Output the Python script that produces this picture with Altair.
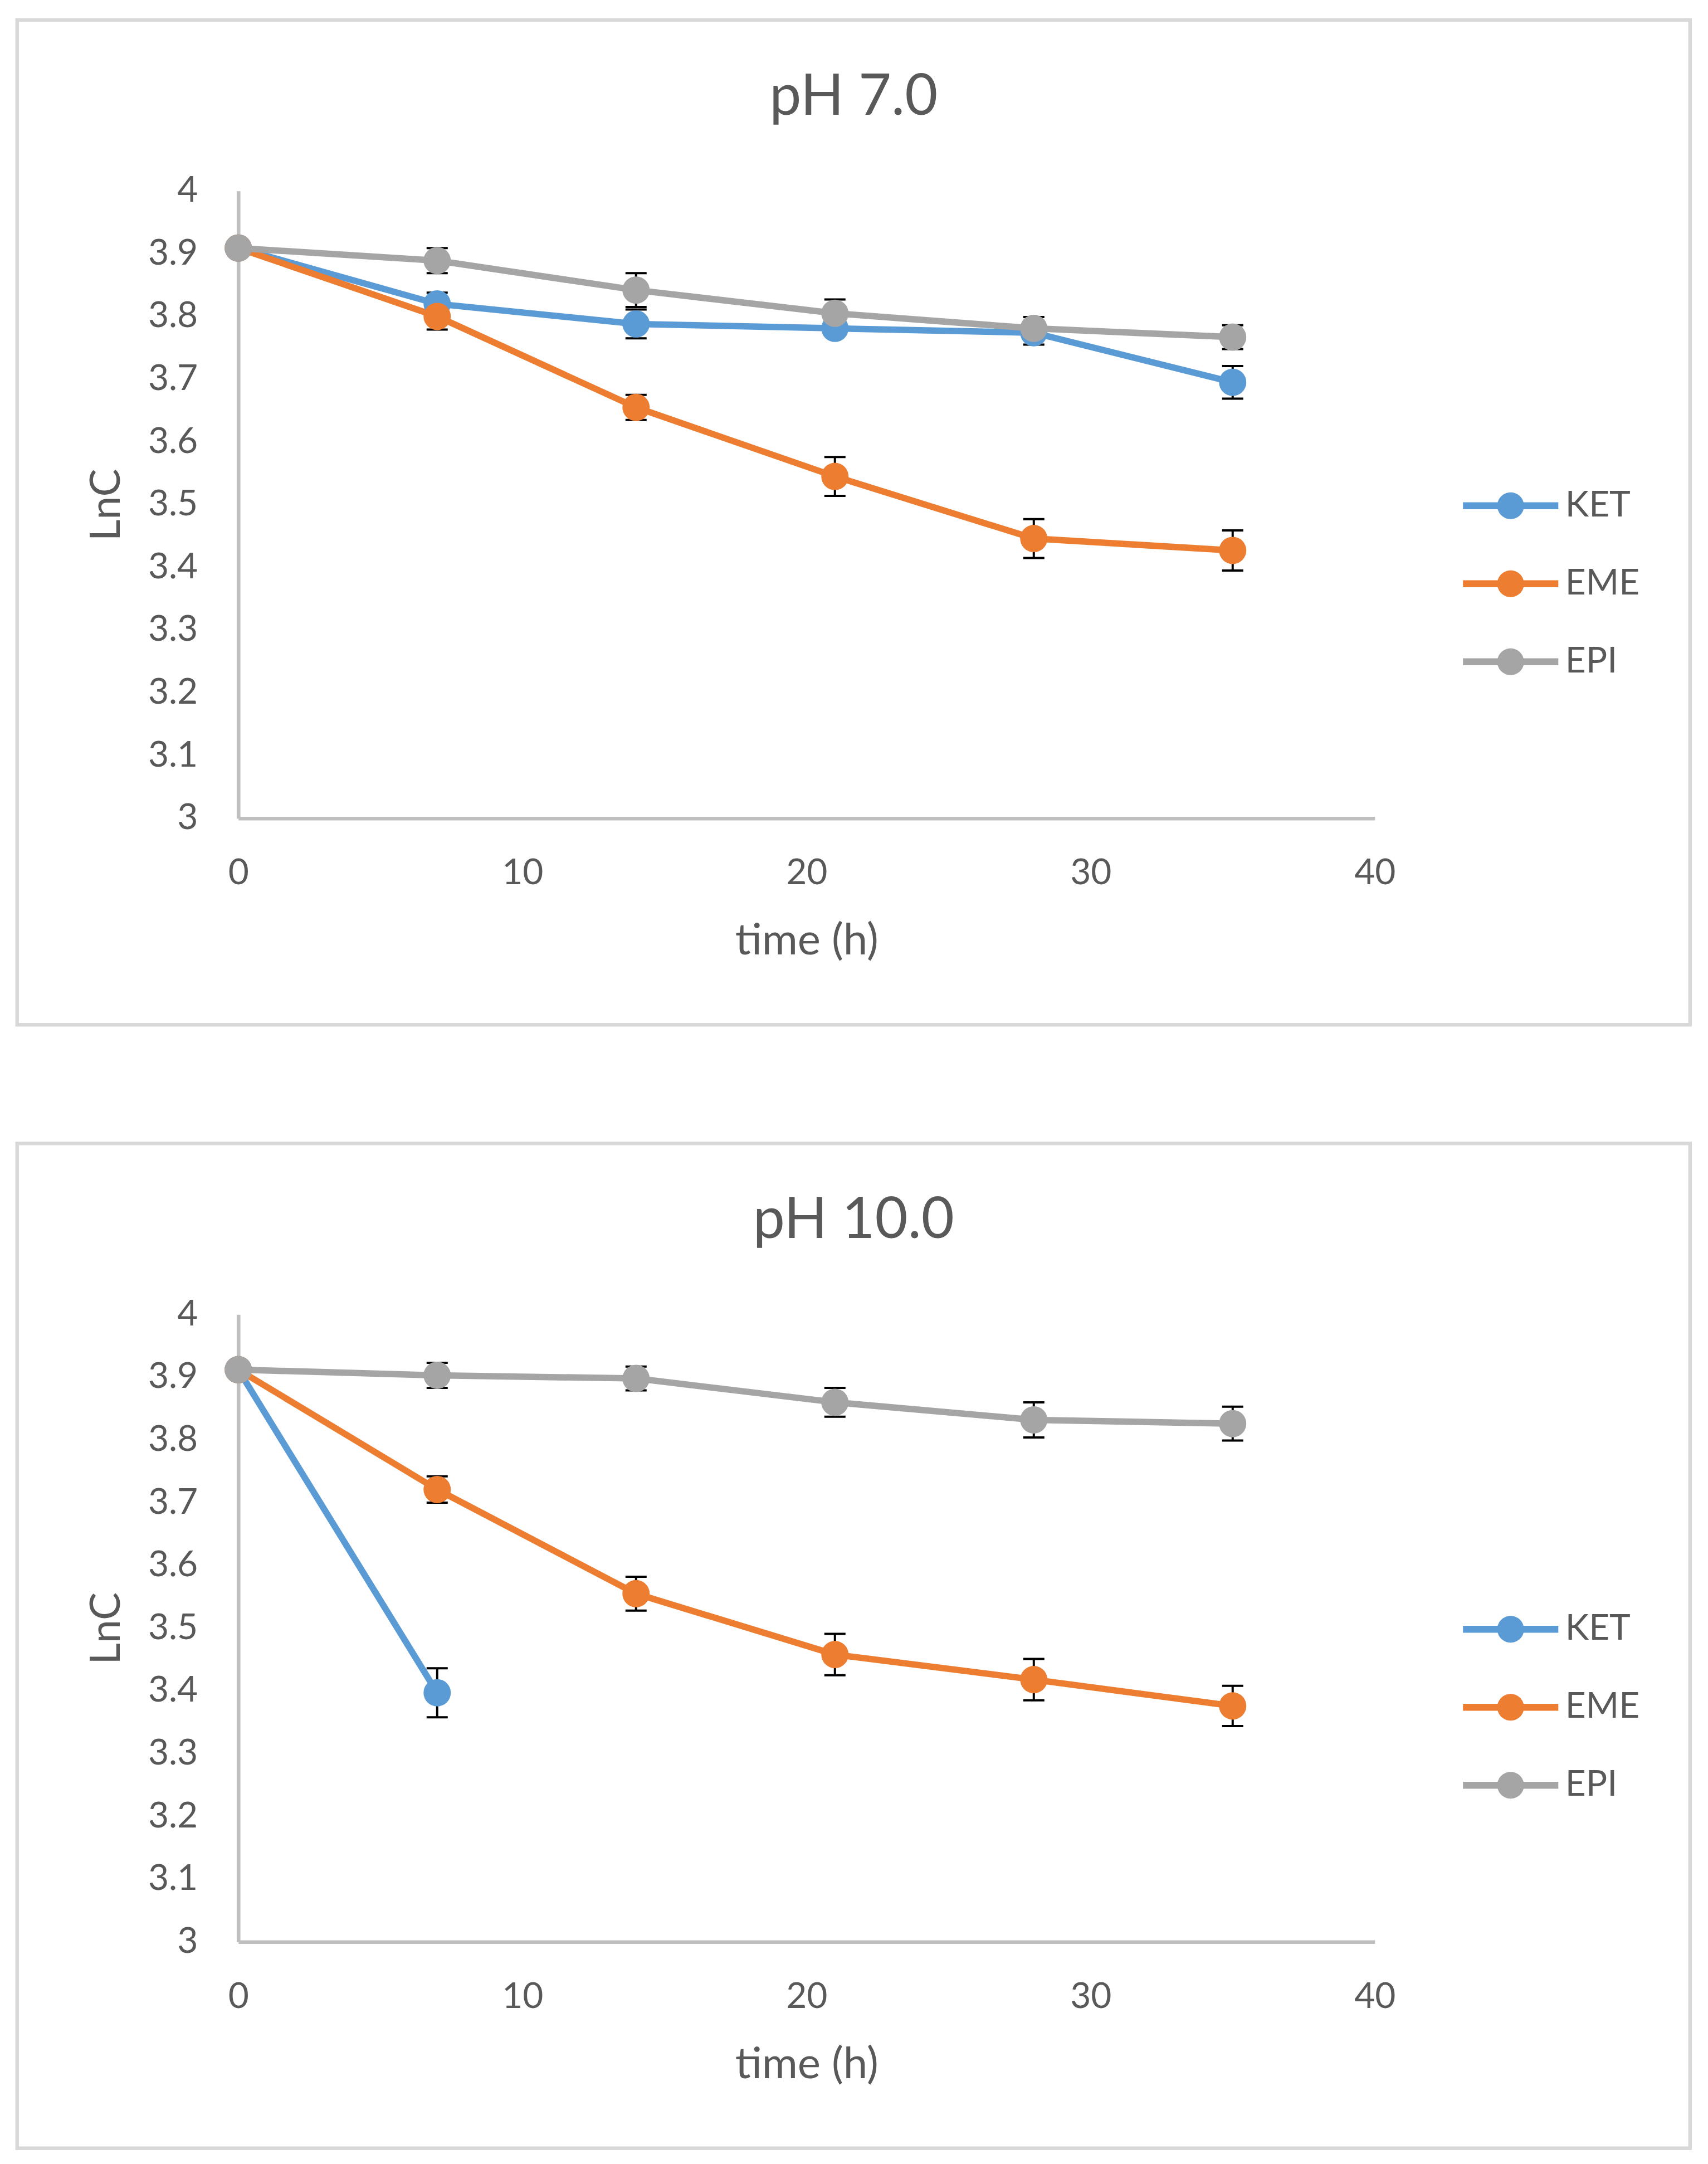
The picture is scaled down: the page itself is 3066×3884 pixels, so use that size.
import altair as alt
import pandas as pd

# ---------------- data ----------------
series = ["KET", "EME", "EPI"]
colors = ["#5B9BD5", "#ED7D31", "#A5A5A5"]
time = [0, 7, 14, 21, 28, 35]

# pH 7.0
ph7_ket = [3.909, 3.820, 3.788, 3.781, 3.774, 3.695]
ph7_ket_err = [0, 0.018, 0.023, 0.010, 0.019, 0.026]
ph7_eme = [3.909, 3.800, 3.655, 3.545, 3.446, 3.427]
ph7_eme_err = [0, 0.021, 0.020, 0.031, 0.031, 0.032]
ph7_epi = [3.909, 3.889, 3.842, 3.805, 3.781, 3.767]
ph7_epi_err = [0, 0.020, 0.027, 0.022, 0.018, 0.019]

# pH 10.0
ph10_ket_time = [0, 7]
ph10_ket = [3.912, 3.397]
ph10_ket_err = [0, 0.039]
ph10_eme = [3.912, 3.721, 3.555, 3.458, 3.418, 3.376]
ph10_eme_err = [0, 0.021, 0.027, 0.033, 0.033, 0.032]
ph10_epi = [3.912, 3.903, 3.898, 3.860, 3.832, 3.826]
ph10_epi_err = [0, 0.020, 0.019, 0.023, 0.028, 0.027]

x_ticks = [0, 10, 20, 30, 40]
y_ticks = [3.0, 3.1, 3.2, 3.3, 3.4, 3.5, 3.6, 3.7, 3.8, 3.9, 4.0]


def panel_df(parts):
    rows = []
    for name, ts, vals, errs in parts:
        for t, v, e in zip(ts, vals, errs):
            rows.append({"time": t, "lnc": v, "err": e, "series": name,
                         "line_series": name, "lo": v - e, "hi": v + e})
    return pd.DataFrame(rows)


df7 = panel_df([("KET", time, ph7_ket, ph7_ket_err),
                ("EME", time, ph7_eme, ph7_eme_err),
                ("EPI", time, ph7_epi, ph7_epi_err)])
df10 = panel_df([("KET", ph10_ket_time, ph10_ket, ph10_ket_err),
                 ("EME", time, ph10_eme, ph10_eme_err),
                 ("EPI", time, ph10_epi, ph10_epi_err)])

# ---------------- styling ----------------
FONT = "Lato"
TXT = "#595959"
W, H = 2040, 1126

# legend glyph: line segment with a dot in the middle (Excel style)
LEGEND_PATH = (
    "M-1.82,-0.134L-0.45,-0.134L-0.45,0.134L-1.82,0.134Z"
    "M0.45,-0.134L1.82,-0.134L1.82,0.134L0.45,0.134Z"
    "M-0.51,0A0.51,0.51,0,1,1,0.51,0A0.51,0.51,0,1,1,-0.51,0Z"
)

x_axis = alt.Axis(values=x_ticks, ticks=False, tickSize=0, grid=False,
                  domainColor="#BFBFBF", domainWidth=6.7,
                  labelFontSize=64, labelColor=TXT, labelFont=FONT,
                  labelPadding=67, labelFlush=False,
                  title="time (h)", titleFontSize=78, titleColor=TXT,
                  titleFont=FONT, titleFontWeight="normal",
                  titleBaseline="alphabetic", titleY=244)
y_axis = alt.Axis(values=y_ticks, format=".1~f", ticks=False, tickSize=0,
                  grid=False, domainColor="#BFBFBF", domainWidth=6.7,
                  labelFontSize=64, labelColor=TXT, labelFont=FONT,
                  labelPadding=73,
                  title="LnC", titleFontSize=75, titleColor=TXT,
                  titleFont=FONT, titleFontWeight="normal",
                  titleBaseline="alphabetic", titleAngle=270,
                  titleAlign="center", titleX=-213, titleY=H / 2)

x_scale = alt.Scale(domain=[0, 40], nice=False, zero=False)
y_scale = alt.Scale(domain=[3, 4], nice=False, zero=False)
fill_scale = alt.Scale(domain=series, range=colors)
# same mapping, listed in another order so the (hidden) line legend is not
# merged with the marker legend
stroke_scale = alt.Scale(domain=series[::-1], range=colors[::-1])


def panel(df, title):
    base = alt.Chart(df)
    X = alt.X("time:Q", scale=x_scale, axis=x_axis)

    frame = alt.Chart(pd.DataFrame({"f": [0]})).mark_rect(
        fill="white", fillOpacity=0, stroke="#D9D9D9", strokeWidth=6.5
    ).encode(x=alt.value(-397), x2=alt.value(2606),
             y=alt.value(-307), y2=alt.value(1496.5))

    lines = base.mark_line(strokeWidth=11.5).encode(
        x=X,
        y=alt.Y("lnc:Q", scale=y_scale, axis=y_axis),
        stroke=alt.Stroke("line_series:N", scale=stroke_scale, legend=None),
    )
    bars = base.transform_filter("datum.err > 0")
    rules = bars.mark_rule(color="black", strokeWidth=4).encode(
        x=X,
        y=alt.Y("lo:Q", scale=y_scale, axis=y_axis),
        y2="hi:Q",
    )
    cap_lo = bars.mark_tick(color="black", orient="horizontal", size=38,
                            thickness=4, opacity=1).encode(
        x=X, y=alt.Y("lo:Q", scale=y_scale, axis=y_axis))
    cap_hi = bars.mark_tick(color="black", orient="horizontal", size=38,
                            thickness=4, opacity=1).encode(
        x=X, y=alt.Y("hi:Q", scale=y_scale, axis=y_axis))
    legend = alt.Legend(
        orient="none", legendX=2237, legendY=518, title=None,
        symbolType=LEGEND_PATH, symbolSize=8836, symbolStrokeWidth=0,
        symbolOpacity=1, labelFontSize=64, labelColor=TXT,
        labelFont=FONT, labelOffset=51, rowPadding=61, padding=0)
    points = base.mark_point(filled=True, size=2400, opacity=1,
                             strokeWidth=0).encode(
        x=X,
        y=alt.Y("lnc:Q", scale=y_scale, axis=y_axis),
        fill=alt.Fill("series:N", scale=fill_scale, legend=legend),
    )
    return alt.layer(frame, lines, rules, cap_lo, cap_hi, points).properties(
        width=W, height=H,
        title=alt.Title(title, fontSize=102, color=TXT, font=FONT,
                        fontWeight="normal", anchor="middle",
                        baseline="alphabetic", offset=-275, frame="bounds"),
    )


chart = alt.vconcat(
    panel(df7, "pH 7.0"), panel(df10, "pH 10.0"), spacing=205.5
).resolve_scale(
    fill="independent", stroke="independent"
).properties(
    padding={"left": 18.75, "top": 23.75, "right": 5, "bottom": 5},
    background="white",
).configure(font=FONT).configure_view(strokeWidth=0, stroke="transparent")

chart.save("out.html", embed_options={"renderer": "svg", "actions": False})
